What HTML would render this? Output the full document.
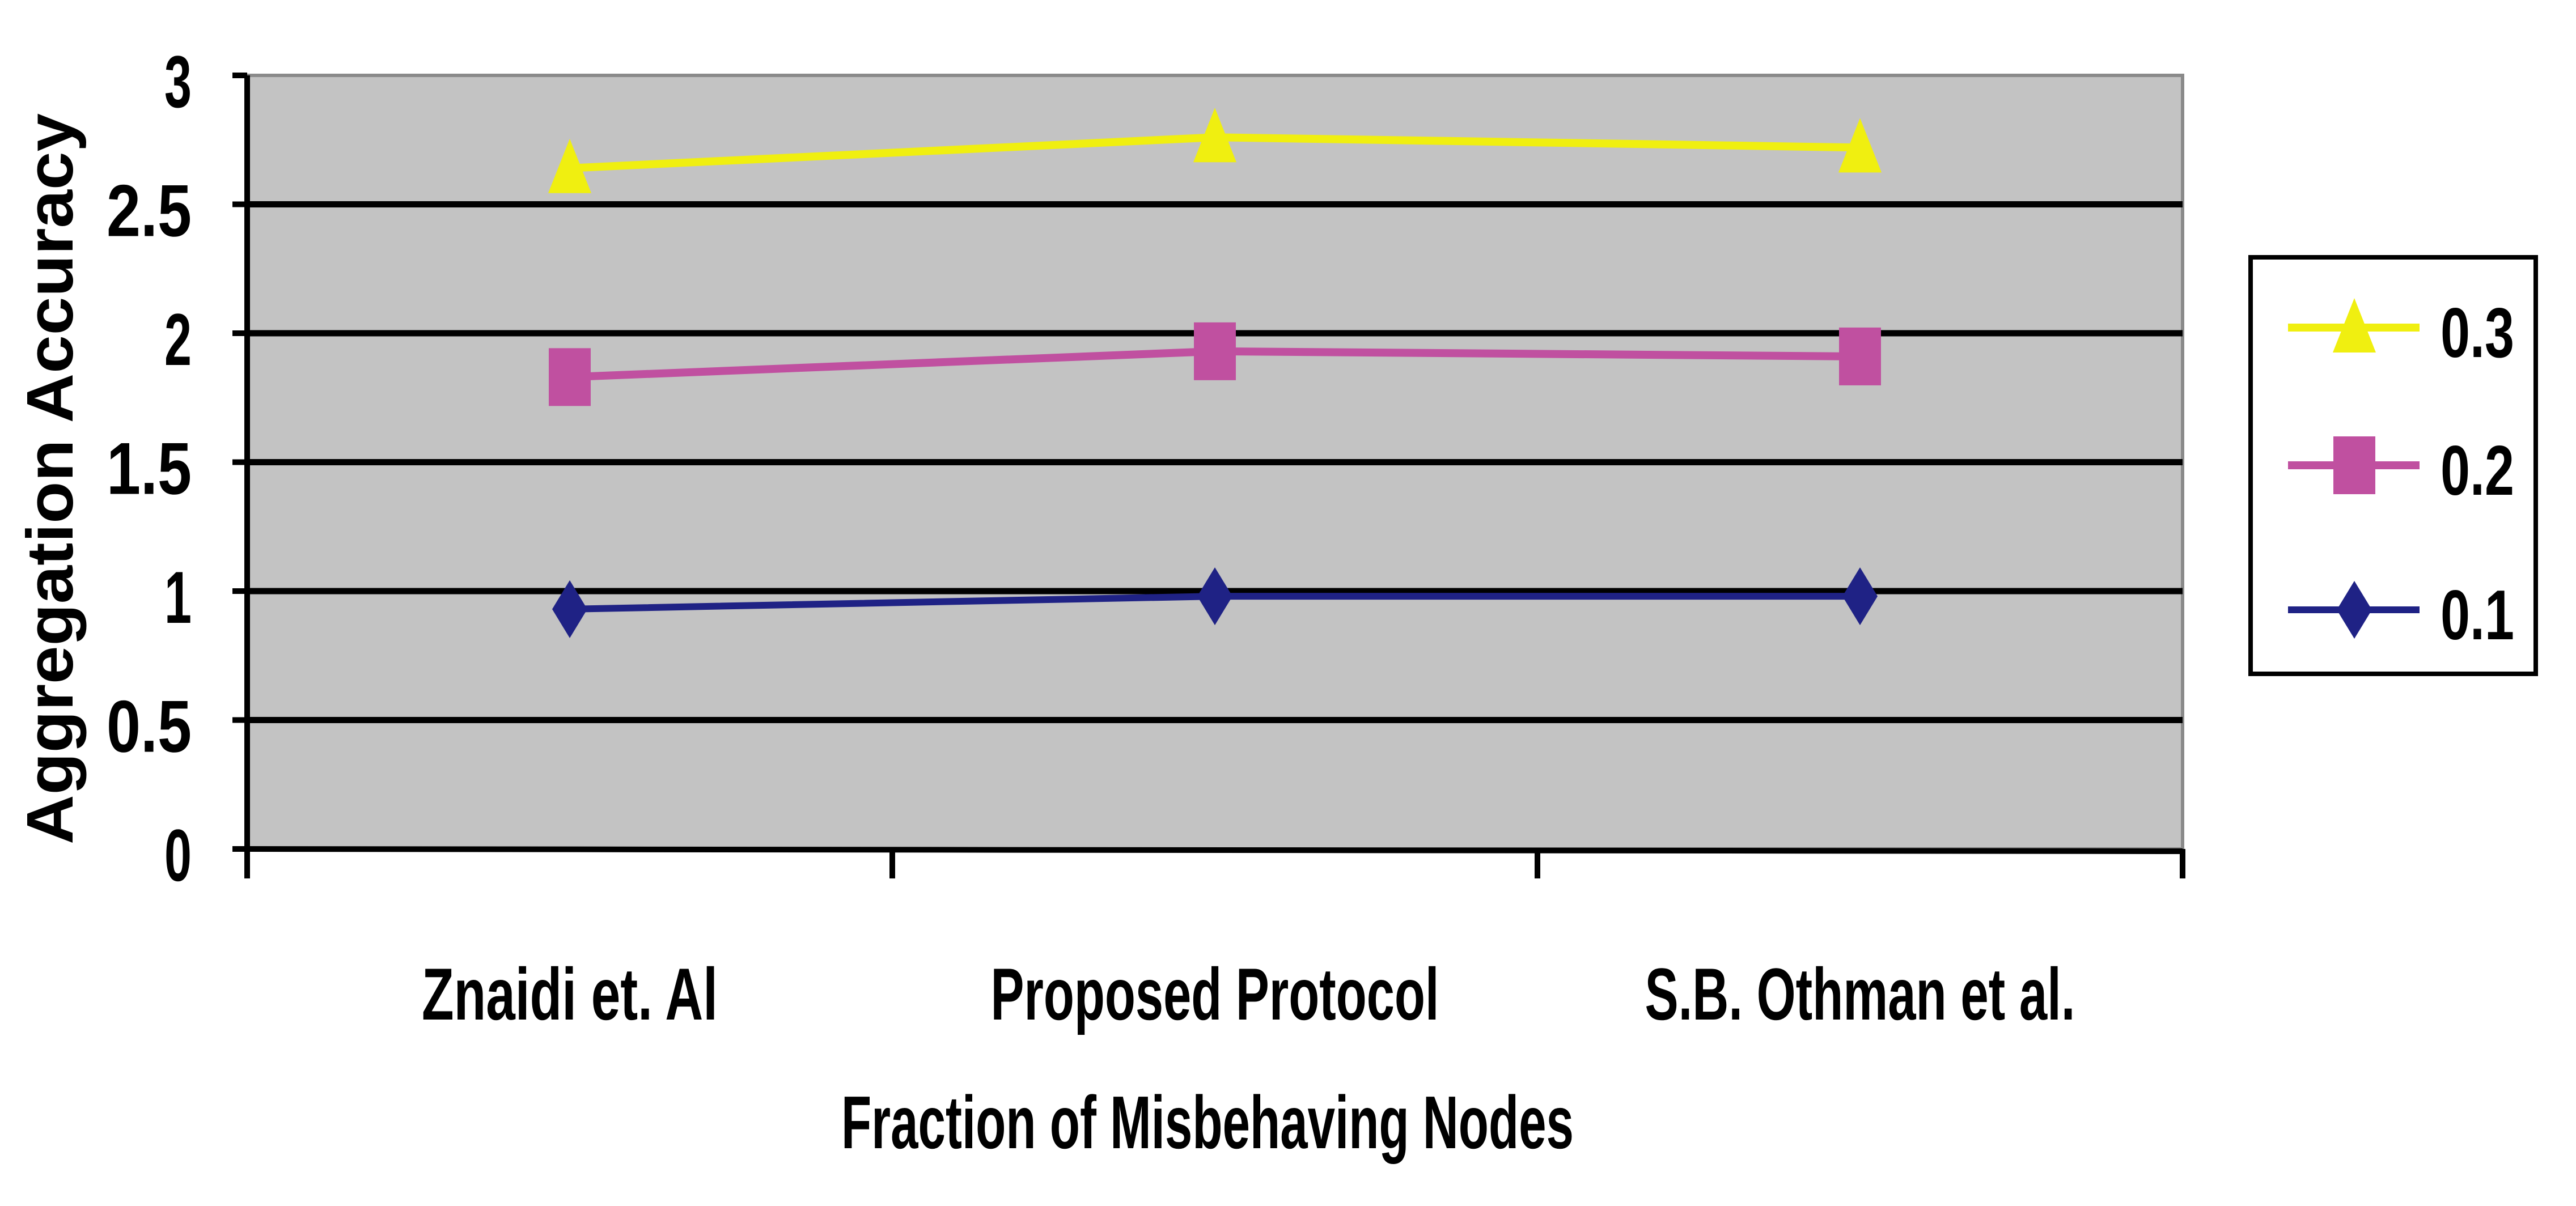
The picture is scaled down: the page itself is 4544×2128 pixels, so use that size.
<!DOCTYPE html>
<html><head><meta charset="utf-8"><style>
html,body{margin:0;padding:0;background:#fff;width:4544px;height:2128px;overflow:hidden}
svg{display:block}
text{font-family:"Liberation Sans",sans-serif;font-weight:bold;fill:#000}
</style></head><body>
<svg id="chart" width="4544" height="2128" viewBox="0 0 4544 2128" xmlns="http://www.w3.org/2000/svg">
<rect x="436" y="133" width="3414" height="1365" fill="#c3c3c3" stroke="#8a8a8a" stroke-width="6"/>
<g id="grid"></g><g id="axes"></g><g id="series"></g>
<text x="0" y="0" font-size="116" text-anchor="middle" textLength="1290" lengthAdjust="spacingAndGlyphs" transform="translate(128,845) rotate(-90)">Aggregation Accuracy</text>
<text x="1484" y="2026" font-size="132" textLength="1292" lengthAdjust="spacingAndGlyphs">Fraction of Misbehaving Nodes</text>
<g>
<rect x="3970" y="454" width="503" height="735" fill="#fff" stroke="#000" stroke-width="8"/>
<g id="legend-items"></g>
</g>
</svg>
<script>
const categories = ["Znaidi et. Al", "Proposed Protocol", "S.B. Othman et al."];
const seriesNames = ["0.3", "0.2", "0.1"];
const values03 = [2.64, 2.76, 2.72];
const values02 = [1.83, 1.93, 1.91];
const values01 = [0.93, 0.98, 0.98];
const yTicks = [0, 0.5, 1, 1.5, 2, 2.5, 3];
const yTickLabels = ["0", "0.5", "1", "1.5", "2", "2.5", "3"];

const NS = "http://www.w3.org/2000/svg";
const X0 = 436, X1 = 3850, Y0 = 1498, Y3 = 133;
function yScale(v){ return Y0 - (v / 3) * (Y0 - Y3); }
function xScale(i){ const bw = (X1 - X0) / categories.length; return X0 + bw * (i + 0.5); }
function mk(tag, attrs, parent){ const e = document.createElementNS(NS, tag); for (const k in attrs) e.setAttribute(k, attrs[k]); parent.appendChild(e); return e; }

const grid = document.getElementById('grid');
const axes = document.getElementById('axes');
yTicks.forEach((t, i) => {
  const y = yScale(t);
  if (t > 0 && t < 3) {
    const g = mk('line', {x1: X0, x2: X1, y1: y, y2: y, stroke: '#000', 'stroke-width': 11}, grid);
    
    
  }
  const tk = mk('line', {x1: 410, x2: X0, y1: y, y2: y, stroke: '#000', 'stroke-width': 10}, axes);
  
  
  const lbl = yTickLabels[i];
  const w = lbl.length === 1 ? 48 : 150;
  const tx = mk('text', {x: 338, y: y + 56, 'font-size': 130, 'text-anchor': 'end', textLength: w, lengthAdjust: 'spacingAndGlyphs'}, axes);
  tx.textContent = lbl;
  
  
});
const yAxis = mk('line', {x1: X0, x2: X0, y1: Y3, y2: 1550, stroke: '#000', 'stroke-width': 10}, axes);


const xAxis = mk('line', {x1: X0, x2: X1, y1: Y0, y2: Y0 + 4, stroke: '#000', 'stroke-width': 10}, axes);


for (let i = 0; i <= categories.length; i++) {
  const x = X0 + (X1 - X0) / categories.length * i;
  const t = mk('line', {x1: x, x2: x, y1: Y0, y2: 1550, stroke: '#000', 'stroke-width': 10}, axes);
  
  
}
const catWidths = [522, 791, 759];
categories.forEach((c, i) => {
  const t = mk('text', {x: xScale(i), y: 1799, 'font-size': 130, 'text-anchor': 'middle', textLength: catWidths[i], lengthAdjust: 'spacingAndGlyphs'}, axes);
  t.textContent = c;
  
  
});

function marker(shape, cx, cy, color, parent){
  let e;
  if (shape === 'tri') e = mk('polygon', {points: `${cx},${cy-52} ${cx-38},${cy+44} ${cx+38},${cy+44}`, fill: color}, parent);
  else if (shape === 'sq') e = mk('rect', {x: cx-37, y: cy-51, width: 74, height: 102, fill: color}, parent);
  else e = mk('polygon', {points: `${cx},${cy-51} ${cx+31},${cy} ${cx},${cy+51} ${cx-31},${cy}`, fill: color}, parent);
  return e;
}
const seriesDefs = [
  {vals: values03, color: '#f0ef10', shape: 'tri', name: 'series-0.3', w: 14},
  {vals: values02, color: '#c050a0', shape: 'sq', name: 'series-0.2', w: 14},
  {vals: values01, color: '#1f2285', shape: 'dia', name: 'series-0.1', w: 12}
];
const sg = document.getElementById('series');
seriesDefs.forEach(s => {
  const g = mk('g', {}, sg);
  
  
  const pts = s.vals.map((v, i) => xScale(i) + ',' + yScale(v)).join(' ');
  const pl = mk('polyline', {points: pts, fill: 'none', stroke: s.color, 'stroke-width': s.w}, g);
  
  
  s.vals.forEach((v, i) => {
    const m = marker(s.shape, xScale(i), yScale(v), s.color, g);
    
    
  });
});

const lg = document.getElementById('legend-items');
const legendY = [578, 821, 1076];
seriesDefs.forEach((s, i) => {
  const g = mk('g', {}, lg);
  
  
  const y = legendY[i];
  mk('line', {x1: 4036, x2: 4268, y1: y, y2: y, stroke: s.color, 'stroke-width': s.w}, g);
  marker(s.shape, 4153, y, s.color, g);
  const t = mk('text', {x: 4305, y: y + 52, 'font-size': 124, textLength: 130, lengthAdjust: 'spacingAndGlyphs'}, g);
  t.textContent = seriesNames[i];
  
  
});
</script>
</body></html>
